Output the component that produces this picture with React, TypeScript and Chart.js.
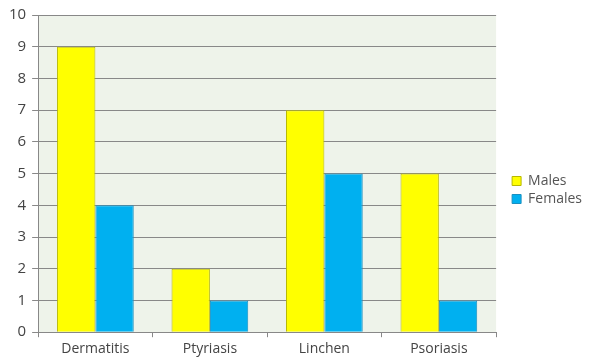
import React, { useEffect, useRef } from "react";
import { Chart, registerables } from "chart.js";

Chart.register(...registerables);

const categories = ["Dermatitis", "Ptyriasis", "Linchen", "Psoriasis"];
const males = [9, 2, 7, 5];
const females = [4, 1, 5, 1];
const seriesNames = ["Males", "Females"];

const plotBg = {
  id: "plotBg",
  beforeDraw(chart: any) {
    const { ctx, chartArea } = chart;
    if (!chartArea) return;
    ctx.save();
    ctx.fillStyle = "#eef3ea";
    ctx.fillRect(chartArea.left, chartArea.top, chartArea.right - chartArea.left, chartArea.bottom - chartArea.top);
    ctx.restore();
  },
};

const legendShift = {
  id: "legendShift",
  afterLayout(chart: any) {
    if (chart.legend) {
      chart.legend.top += 7;
      chart.legend.bottom += 7;
    }
  },
};

export default function App() {
  const ref = useRef<HTMLCanvasElement>(null);
  useEffect(() => {
    document.body.style.margin = "0";
    const chart = new Chart(ref.current!, {
      type: "bar",
      data: {
        labels: categories,
        datasets: [
          { label: seriesNames[0], data: males, backgroundColor: "#ffff00", borderColor: "#b8b800", borderWidth: 1 },
          { label: seriesNames[1], data: females, backgroundColor: "#00b0f0", borderColor: "#1a8fc0", borderWidth: 1 },
        ],
      },
      options: {
        animation: false,
        responsive: false,
        maintainAspectRatio: false,
        layout: { padding: { top: 6, left: 3, right: 2, bottom: 0 } },
        datasets: { bar: { categoryPercentage: 0.67, barPercentage: 1 } },
        plugins: {
          legend: {
            position: "right",
            labels: {
              boxWidth: 9,
              boxHeight: 9,
              padding: 4,
              color: "#555",
              font: { family: "Open Sans", size: 14 },
            },
          },
          tooltip: { enabled: false },
        },
        scales: {
          x: {
            grid: { display: true, drawOnChartArea: false, offset: true, tickLength: 5, color: "#888" },
            border: { color: "#888" },
            ticks: { color: "#444", font: { family: "Open Sans", size: 14 }, padding: 3 },
          },
          y: {
            min: 0,
            max: 10,
            ticks: { stepSize: 1, color: "#444", font: { family: "Open Sans", size: 15 }, padding: 6 },
            grid: { color: "#888", tickLength: 6 },
            border: { color: "#888" },
          },
          gap: {
            position: "right",
            display: true,
            grid: { display: false, drawOnChartArea: false },
            border: { display: false },
            ticks: { display: false },
            afterFit: (s: any) => { s.width = 12; },
          },
        },
      },
      plugins: [plotBg, legendShift],
    });
    return () => chart.destroy();
  }, []);
  return <canvas ref={ref} width={594} height={360} style={{ display: "block" }} />;
}
